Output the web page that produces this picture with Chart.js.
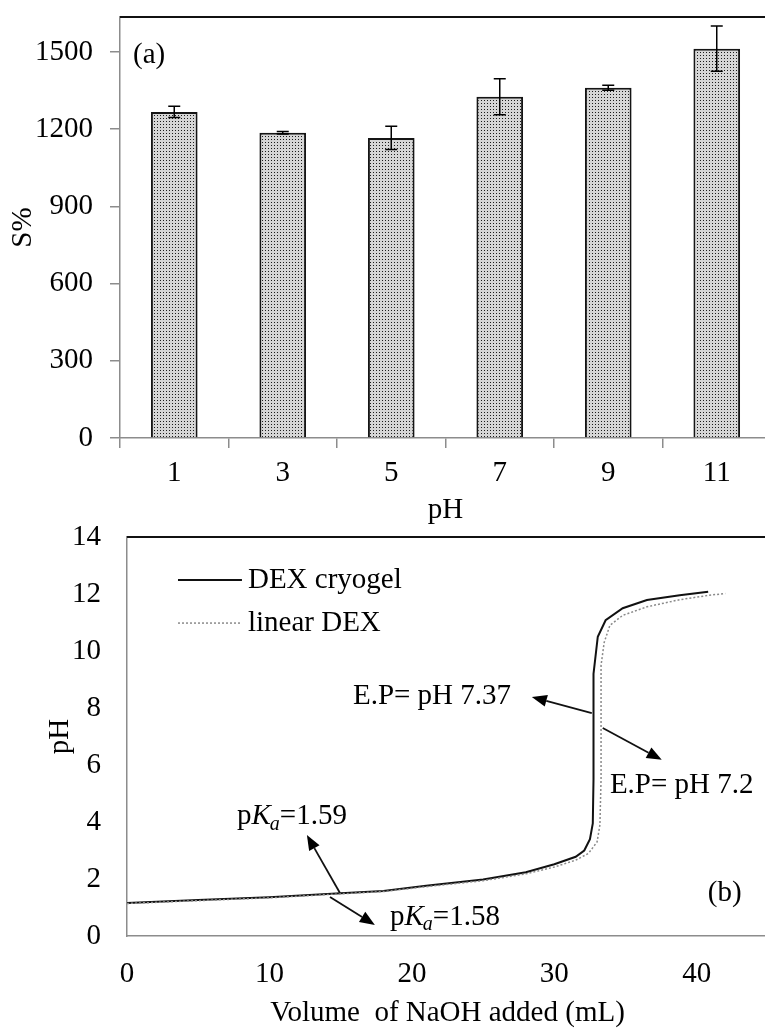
<!DOCTYPE html>
<html>
<head>
<meta charset="utf-8">
<script src="https://cdn.jsdelivr.net/npm/chart.js@4.4.0/dist/chart.umd.min.js"></script>
<style>
html, body { margin: 0; padding: 0; background: #fff; overflow: hidden; width: 765px; height: 1028px; }
#wrap-a { position: absolute; left: 0; top: 0; }
#wrap-b { position: absolute; left: 0; top: 520px; }
</style>
</head>
<body>
<div id="wrap-a"><canvas id="chart-a" width="771" height="525"></canvas></div>
<div id="wrap-b"><canvas id="chart-b" width="768" height="508"></canvas></div>
<script>
// (a) swelling S% vs pH
const phLabels = ['1', '3', '5', '7', '9', '11'];
const swelling = [1267, 1186, 1166, 1326, 1361, 1513];
const swellingErr = [22, 5, 45, 70, 10, 88];

// (b) titration curves
const cryogelVol = [0, 5, 10, 15, 18, 21, 25, 28, 30, 31.5, 32.1, 32.5, 32.7, 32.75, 32.75, 33.05, 33.6, 34.8, 36.5, 38.8, 40.8];
const cryogelPH  = [1.16, 1.26, 1.36, 1.5, 1.58, 1.76, 1.98, 2.24, 2.52, 2.78, 3.0, 3.4, 3.95, 5.5, 9.2, 10.5, 11.08, 11.5, 11.79, 11.96, 12.08];
const linearVol = [0, 5, 10, 15, 18, 21, 25, 28, 30, 31.5, 32.4, 33.0, 33.2, 33.28, 33.28, 33.5, 33.9, 34.8, 36.5, 38.8, 40.8, 42.0];
const linearPH  = [1.14, 1.24, 1.34, 1.48, 1.56, 1.73, 1.94, 2.18, 2.42, 2.66, 2.9, 3.3, 3.9, 5.5, 9.5, 10.3, 10.9, 11.25, 11.55, 11.8, 11.95, 12.02];

const serif = 'Liberation Serif';
const fs = 29;
const axisGray = '#8c8c8c';

function dotPattern(ctx) {
    const c = document.createElement('canvas');
    c.width = 3; c.height = 3;
    const g = c.getContext('2d');
    g.fillStyle = '#d6d6d6';
    g.fillRect(0, 0, 3, 3);
    g.fillStyle = '#1c1c1c';
    g.fillRect(1, 1, 1, 1);
    return ctx.createPattern(c, 'repeat');
}

function arrow(ctx, x1, y1, x2, y2) {
    const ang = Math.atan2(y2 - y1, x2 - x1);
    const len = 15, half = 6;
    const bx = x2 - len * Math.cos(ang), by = y2 - len * Math.sin(ang);
    ctx.beginPath();
    ctx.moveTo(x1, y1);
    ctx.lineTo(bx, by);
    ctx.stroke();
    ctx.beginPath();
    ctx.moveTo(x2, y2);
    ctx.lineTo(bx + half * Math.sin(ang), by - half * Math.cos(ang));
    ctx.lineTo(bx - half * Math.sin(ang), by + half * Math.cos(ang));
    ctx.closePath();
    ctx.fill();
}

function pKaText(ctx, x, y, val) {
    ctx.textBaseline = 'middle';
    ctx.textAlign = 'left';
    ctx.font = fs + 'px "' + serif + '"';
    ctx.fillText('p', x, y);
    x += ctx.measureText('p').width;
    ctx.font = 'italic ' + fs + 'px "' + serif + '"';
    ctx.fillText('K', x, y);
    x += ctx.measureText('K').width;
    ctx.font = 'italic 20px "' + serif + '"';
    ctx.fillText('a', x - 1, y + 8);
    x += ctx.measureText('a').width - 1;
    ctx.font = fs + 'px "' + serif + '"';
    ctx.fillText('=' + val, x, y);
}

const errorBars = {
    id: 'errorBars',
    afterDatasetsDraw(chart) {
        const { ctx, chartArea, scales: { y } } = chart;
        const meta = chart.getDatasetMeta(0);
        ctx.save();
        ctx.strokeStyle = '#000';
        ctx.lineWidth = 1.5;
        meta.data.forEach((bar, i) => {
            const hi = y.getPixelForValue(swelling[i] + swellingErr[i]);
            const lo = y.getPixelForValue(swelling[i] - swellingErr[i]);
            ctx.beginPath();
            ctx.moveTo(bar.x, hi); ctx.lineTo(bar.x, lo);
            ctx.moveTo(bar.x - 6, hi); ctx.lineTo(bar.x + 6, hi);
            ctx.moveTo(bar.x - 6, lo); ctx.lineTo(bar.x + 6, lo);
            ctx.stroke();
        });
        // frame top line
        ctx.lineWidth = 2;
        ctx.strokeStyle = '#111';
        ctx.beginPath();
        ctx.moveTo(chartArea.left, chartArea.top);
        ctx.lineTo(chart.width, chartArea.top);
        ctx.stroke();
        ctx.fillStyle = '#000';
        ctx.font = fs + 'px "' + serif + '"';
        ctx.textBaseline = 'middle';
        ctx.fillText('(a)', chartArea.left + 13, y.getPixelForValue(1488));
        ctx.restore();
    }
};

const ctxA = document.getElementById('chart-a').getContext('2d');
new Chart(ctxA, {
    type: 'bar',
    data: {
        labels: phLabels,
        datasets: [{
            data: swelling,
            backgroundColor: dotPattern(ctxA),
            borderColor: '#151515',
            borderWidth: 2,
            barPercentage: 0.43,
            categoryPercentage: 1
        }]
    },
    options: {
        responsive: false,
        animation: false,
        layout: { padding: 0 },
        plugins: {
            legend: { display: false },
            tooltip: { enabled: false }
        },
        scales: {
            x: {
                grid: { drawOnChartArea: false, tickLength: 10, color: axisGray, lineWidth: 1.5 },
                border: { color: axisGray, width: 1.5 },
                ticks: { color: '#000', font: { family: serif, size: fs }, padding: 8, maxRotation: 0 },
                title: { display: true, text: 'pH', color: '#000', font: { family: serif, size: fs, lineHeight: 1 }, padding: { top: 0, bottom: 0 } },
                afterFit: s => { s.height = 87; }
            },
            y: {
                min: 0,
                max: 1636,
                grid: { drawOnChartArea: false, tickLength: 10, color: axisGray, lineWidth: 1.5 },
                border: { color: axisGray, width: 1.5 },
                ticks: { stepSize: 300, color: '#000', font: { family: serif, size: fs }, padding: 17, callback: v => String(v) },
                afterBuildTicks: s => { s.ticks = s.ticks.filter(t => t.value % 300 === 0); },
                title: { display: true, text: 'S%', color: '#000', font: { family: serif, size: fs, lineHeight: 1 }, padding: { top: 9, bottom: 0 } },
                afterFit: s => { s.width = 120; s.paddingTop = 17; }
            }
        }
    },
    plugins: [errorBars]
});

const notes = {
    id: 'notes',
    afterDatasetsDraw(chart) {
        const { ctx, chartArea, scales: { x, y } } = chart;
        const px = v => x.getPixelForValue(v);
        const py = v => y.getPixelForValue(v);
        ctx.save();
        ctx.lineWidth = 2;
        ctx.strokeStyle = '#111';
        ctx.beginPath();
        ctx.moveTo(chartArea.left, chartArea.top);
        ctx.lineTo(chart.width, chartArea.top);
        ctx.stroke();

        // legend
        ctx.beginPath();
        ctx.moveTo(px(3.58), py(12.49));
        ctx.lineTo(px(8.07), py(12.49));
        ctx.stroke();
        ctx.strokeStyle = '#8a8a8a';
        ctx.lineWidth = 1.5;
        ctx.setLineDash([2, 2]);
        ctx.beginPath();
        ctx.moveTo(px(3.58), py(10.98));
        ctx.lineTo(px(8.07), py(10.98));
        ctx.stroke();
        ctx.setLineDash([]);

        ctx.fillStyle = '#000';
        ctx.font = fs + 'px "' + serif + '"';
        ctx.textBaseline = 'middle';
        ctx.textAlign = 'left';
        ctx.fillText('DEX cryogel', px(8.49), py(12.49));
        ctx.fillText('linear DEX', px(8.49), py(10.98));
        ctx.fillText('E.P= pH 7.37', px(15.86), py(8.39));
        ctx.fillText('E.P= pH 7.2', px(33.9), py(5.3));
        ctx.fillText('(b)', px(40.77), py(1.51));
        pKaText(ctx, px(7.72), py(4.18), '1.59');
        pKaText(ctx, px(18.46), py(0.67), '1.58');

        ctx.strokeStyle = '#111';
        ctx.fillStyle = '#000';
        ctx.lineWidth = 1.8;
        arrow(ctx, px(32.63), py(7.82), px(28.42), py(8.39));
        arrow(ctx, px(33.4), py(7.3), px(37.54), py(6.18));
        arrow(ctx, px(14.95), py(1.51), px(12.63), py(3.54));
        arrow(ctx, px(14.25), py(1.37), px(17.4), py(0.39));
        ctx.restore();
    }
};

const ctxB = document.getElementById('chart-b').getContext('2d');
new Chart(ctxB, {
    type: 'scatter',
    data: {
        datasets: [{
            label: 'linear DEX',
            data: linearVol.map((v, i) => ({ x: v, y: linearPH[i] })),
            showLine: true,
            borderColor: '#8a8a8a',
            borderWidth: 1.5,
            borderDash: [2, 2],
            pointRadius: 0
        }, {
            label: 'DEX cryogel',
            data: cryogelVol.map((v, i) => ({ x: v, y: cryogelPH[i] })),
            showLine: true,
            borderColor: '#111',
            borderWidth: 2,
            pointRadius: 0
        }]
    },
    options: {
        responsive: false,
        animation: false,
        layout: { padding: 0 },
        plugins: {
            legend: { display: false },
            tooltip: { enabled: false }
        },
        scales: {
            x: {
                type: 'linear',
                min: 0,
                max: 45,
                grid: { display: false },
                border: { color: axisGray, width: 1.5 },
                ticks: { stepSize: 10, color: '#000', font: { family: serif, size: fs }, padding: 13, maxRotation: 0 },
                afterBuildTicks: s => { s.ticks = s.ticks.filter(t => t.value % 10 === 0); },
                title: { display: true, text: 'Volume  of NaOH added (mL)', color: '#000', font: { family: serif, size: fs, lineHeight: 1 }, padding: { top: 0, bottom: 0 } },
                afterFit: s => { s.height = 92; }
            },
            y: {
                min: 0,
                max: 14,
                grid: { display: false },
                border: { color: axisGray, width: 1.5 },
                ticks: { stepSize: 2, color: '#000', font: { family: serif, size: fs }, padding: 18 },
                title: { display: true, text: 'pH', color: '#000', font: { family: serif, size: fs, lineHeight: 1 }, padding: { top: 46, bottom: 0 } },
                afterFit: s => { s.width = 127; s.paddingTop = 17; }
            }
        }
    },
    plugins: [notes]
});
</script>
</body>
</html>
